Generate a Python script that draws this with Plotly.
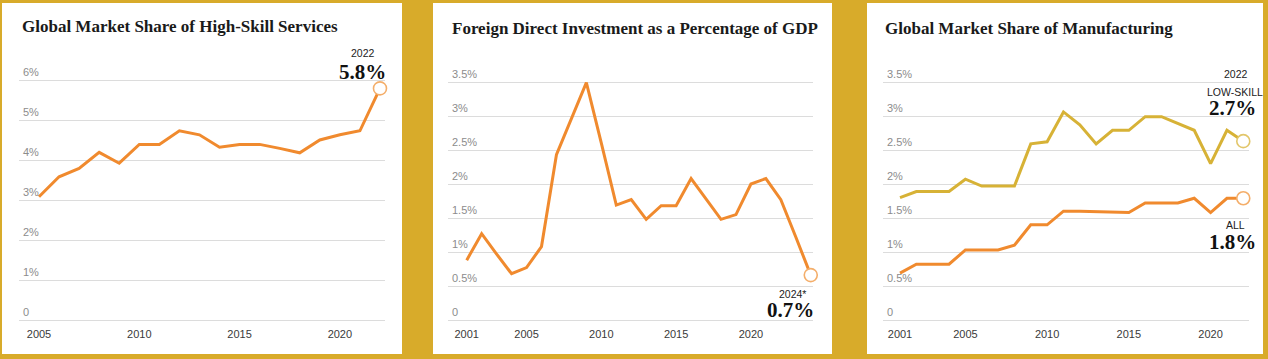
import plotly.graph_objects as go

W, H = 1268, 359

# ---------------- data ----------------
hs_years = list(range(2005, 2023))
hs_share = [3.08, 3.58, 3.79, 4.19, 3.92, 4.39, 4.39, 4.73, 4.63, 4.32,
            4.39, 4.39, 4.29, 4.18, 4.50, 4.63, 4.73, 5.79]

fdi_years = list(range(2001, 2025))
fdi_share = [0.88, 1.27, 0.97, 0.68, 0.77, 1.08, 2.43, 2.95, 3.49, 2.60,
             1.69, 1.77, 1.48, 1.68, 1.68, 2.08, 1.78, 1.48, 1.55, 2.00,
             2.08, 1.77, 1.22, 0.66]

mf_years = list(range(2001, 2023))
mf_low_skill = [1.80, 1.89, 1.89, 1.89, 2.07, 1.97, 1.97, 1.97, 2.59, 2.62,
                3.06, 2.87, 2.59, 2.79, 2.79, 2.99, 2.99, 2.89, 2.79, 2.30,
                2.79, 2.63]
mf_all = [0.69, 0.82, 0.82, 0.82, 1.03, 1.03, 1.03, 1.10, 1.40, 1.40,
          1.60, 1.60, 1.59, 1.59, 1.58, 1.72, 1.72, 1.72, 1.79, 1.58,
          1.79, 1.79]

titles = ["Global Market Share of High-Skill Services",
          "Foreign Direct Investment as a Percentage of GDP",
          "Global Market Share of Manufacturing"]

hs_yticks = [0, 1, 2, 3, 4, 5, 6]
hs_ytext = ["0", "1%", "2%", "3%", "4%", "5%", "6%"]
pct_yticks = [0, 0.5, 1, 1.5, 2, 2.5, 3, 3.5]
pct_ytext = ["0", "0.5%", "1%", "1.5%", "2%", "2.5%", "3%", "3.5%"]
hs_xticks = [2005, 2010, 2015, 2020]
fdi_xticks = [2001, 2005, 2010, 2015, 2020]
mf_xticks = [2001, 2005, 2010, 2015, 2020]

# ---------------- style ----------------
GOLD_BG = "#D8AB2A"
ORANGE = "#F08A2E"
ORANGE_LIGHT = "#F4AE6A"
GOLD_LINE = "#D7B236"
GOLD_LIGHT = "#E2C66A"
GRID = "#DCDCDC"
SERIF = "Liberation Serif"
SANS = "Liberation Sans"


def px(x):
    return x / W


def py(y):
    return 1 - y / H


fig = go.Figure()

# white panels
panels = [(2, 402), (433, 832), (867, 1263)]
for x0, x1 in panels:
    fig.add_shape(type="rect", xref="paper", yref="paper",
                  x0=px(x0), x1=px(x1), y0=py(354), y1=py(3),
                  fillcolor="white", line=dict(width=0), layer="below")


def line_trace(x, y, color, xa, ya):
    return go.Scatter(x=x, y=y, mode="lines", xaxis=xa, yaxis=ya,
                      line=dict(color=color, width=3, shape="linear"),
                      cliponaxis=False, showlegend=False, hoverinfo="x+y")


def end_marker(x, y, color, xa, ya):
    return go.Scatter(x=[x[-1]], y=[y[-1]], mode="markers", xaxis=xa, yaxis=ya,
                      marker=dict(size=13, color="white",
                                  line=dict(color=color, width=1.6)),
                      cliponaxis=False, showlegend=False, hoverinfo="x+y")


fig.add_trace(line_trace(hs_years, hs_share, ORANGE, "x", "y4"))
fig.add_trace(end_marker(hs_years, hs_share, ORANGE_LIGHT, "x", "y4"))
fig.add_trace(line_trace(fdi_years, fdi_share, ORANGE, "x2", "y5"))
fig.add_trace(end_marker(fdi_years, fdi_share, ORANGE_LIGHT, "x2", "y5"))
fig.add_trace(line_trace(mf_years, mf_low_skill, GOLD_LINE, "x3", "y6"))
fig.add_trace(line_trace(mf_years, mf_all, ORANGE, "x3", "y6"))
fig.add_trace(end_marker(mf_years, mf_low_skill, GOLD_LIGHT, "x3", "y6"))
fig.add_trace(end_marker(mf_years, mf_all, ORANGE_LIGHT, "x3", "y6"))

YDOM = (60, 322)  # top, bottom in px
YDOMAIN = [py(YDOM[1]), py(YDOM[0])]


def xaxis(anchor, dom, rng, ticks):
    return dict(anchor=anchor, domain=[px(dom[0]), px(dom[1])], range=rng,
                tickvals=ticks, ticktext=[str(t) for t in ticks],
                showgrid=False, zeroline=False, showline=False, ticks="",
                ticklabelstandoff=4,
                tickfont=dict(family=SANS, size=11, color="#3a3a3a"),
                fixedrange=True)


def yaxis(anchor, rng, vals):
    # base axis: gridlines only
    return dict(anchor=anchor, domain=YDOMAIN, range=rng,
                tickvals=vals, showticklabels=False, showgrid=True,
                gridcolor=GRID, gridwidth=1, zeroline=False, showline=False,
                ticks="", fixedrange=True)


def ylabels(over, left, rng, vals, text):
    # overlaying free axis carrying the data and the tick labels
    return dict(overlaying=over, anchor="free", position=px(left), side="left",
                domain=YDOMAIN, range=rng, tickvals=vals, ticktext=text,
                showgrid=True, gridcolor=GRID, gridwidth=1,
                zeroline=False, showline=False, ticks="",
                ticklabelposition="inside top", ticklabeloverflow="allow",
                tickfont=dict(family=SANS, size=11, color="#8c8c8c"),
                fixedrange=True)


r1 = [-(322 - 320) / 40, (320 - 60) / 40]
r23 = [-(322 - 320) / 68, (320 - 60) / 68]

fig.update_layout(
    xaxis=xaxis("y", (19, 385), [2004.003, 2022.25], hs_xticks),
    yaxis=yaxis("x", r1, hs_yticks),
    xaxis2=xaxis("y2", (448, 813), [1999.75, 2024.15], fdi_xticks),
    yaxis2=yaxis("x2", r23, pct_yticks),
    xaxis3=xaxis("y3", (883, 1249), [1999.96, 2022.35], mf_xticks),
    yaxis3=yaxis("x3", r23, pct_yticks),
    yaxis4=ylabels("y", 19, r1, hs_yticks, hs_ytext),
    yaxis5=ylabels("y2", 448, r23, pct_yticks, pct_ytext),
    yaxis6=ylabels("y3", 883, r23, pct_yticks, pct_ytext),
)

ann = []
for (tx, ty), t in zip([(20, 27), (450, 28), (883, 28)], titles):
    ann.append(dict(x=px(tx), y=py(ty), xref="paper", yref="paper",
                    xanchor="left", yanchor="middle", showarrow=False,
                    text=f"<b>{t}</b>",
                    font=dict(family=SERIF, size=17, color="#1a1a1a")))


def small(x, y, t):
    ann.append(dict(x=px(x), y=py(y), xref="paper", yref="paper",
                    xanchor="center", yanchor="middle", showarrow=False,
                    text=t, font=dict(family=SANS, size=10.5, color="#222")))


def big(xr, y, t):
    ann.append(dict(x=px(xr), y=py(y), xref="paper", yref="paper",
                    xanchor="right", yanchor="middle", showarrow=False,
                    text=f"<b>{t}</b>",
                    font=dict(family=SERIF, size=21, color="#111")))


small(363, 53, str(hs_years[-1]))
big(388, 72, f"{hs_share[-1]:.1f}%")
small(792, 294, "2024*")
big(816, 310, f"{fdi_share[-1]:.1f}%")
small(1236, 74, str(mf_years[-1]))
small(1235, 92, "LOW-SKILL")
big(1258, 108, "2.7%")
small(1235, 225, "ALL")
big(1258, 242, f"{mf_all[-1]:.1f}%")

fig.update_layout(
    annotations=ann,
    width=W, height=H,
    margin=dict(l=0, r=0, t=0, b=0),
    paper_bgcolor=GOLD_BG, plot_bgcolor="rgba(0,0,0,0)",
    showlegend=False,
)

fig.write_html("out.html", config={"displayModeBar": False},
               post_script="document.body.style.margin='0';"
                           "document.body.style.overflow='hidden';")
